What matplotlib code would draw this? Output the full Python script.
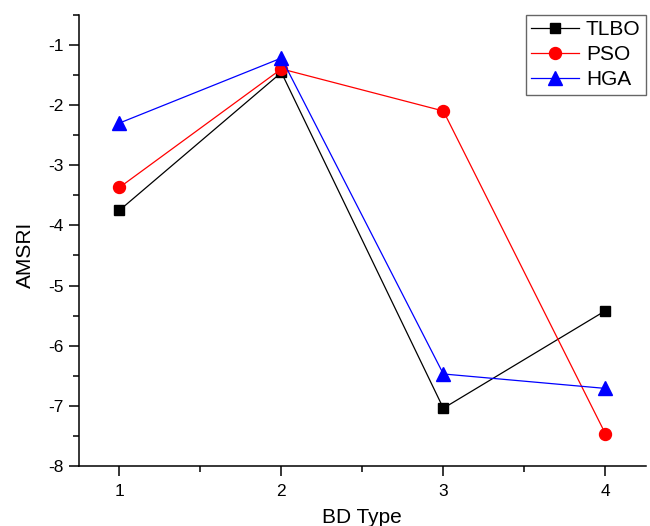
import numpy as np
import matplotlib
matplotlib.use("Agg")
import matplotlib.pyplot as plt
from matplotlib.ticker import MultipleLocator

plt.rcParams['font.family'] = ['Liberation Sans', 'DejaVu Sans']
plt.rcParams['axes.unicode_minus'] = False

bd_type = [1, 2, 3, 4]
tlbo = [-3.75, -1.46, -7.04, -5.42]
pso = [-3.37, -1.40, -2.10, -7.46]
hga = [-2.30, -1.22, -6.47, -6.71]

fig = plt.figure(figsize=(6.5, 5.26), dpi=100)
ax = fig.add_axes([0.1215, 0.114, 0.872, 0.858])

ax.plot(bd_type, tlbo, color='black', marker='s', markersize=7, lw=0.9, label='TLBO')
ax.plot(bd_type, pso, color='red', marker='o', markersize=8.6, lw=0.9, label='PSO')
ax.plot(bd_type, hga, color='blue', marker='^', markersize=9.5, lw=0.9, label='HGA')

ax.set_xlim(0.75, 4.25)
ax.set_ylim(-8, -0.5)
ax.xaxis.set_major_locator(MultipleLocator(1))
ax.xaxis.set_minor_locator(MultipleLocator(0.5))
ax.yaxis.set_major_locator(MultipleLocator(1))
ax.yaxis.set_minor_locator(MultipleLocator(0.5))
ax.tick_params(which='major', direction='out', length=7, width=1.1)
ax.tick_params(which='minor', direction='out', length=4, width=1.1)
ax.tick_params(axis='x', labelsize=12.5, pad=6)
ax.tick_params(axis='y', labelsize=12.5, pad=4)
for s in ['top', 'right']:
    ax.spines[s].set_visible(False)
for s in ['left', 'bottom']:
    ax.spines[s].set_linewidth(1.1)

ax.set_xlabel('BD Type', fontsize=15)
ax.set_ylabel('AMSRI', fontsize=15)
ax.xaxis.set_label_coords(0.5, -0.092)
ax.yaxis.set_label_coords(-0.078, 0.4675)

leg = ax.legend(loc='upper right', bbox_to_anchor=(1.0, 1.0), fontsize=15,
                fancybox=False, framealpha=1, edgecolor='#666666',
                handlelength=2.3, handletextpad=0.35, borderpad=0.25,
                labelspacing=0.3, borderaxespad=0)
leg.get_frame().set_linewidth(1.0)

fig.savefig('out.png', dpi=100)
